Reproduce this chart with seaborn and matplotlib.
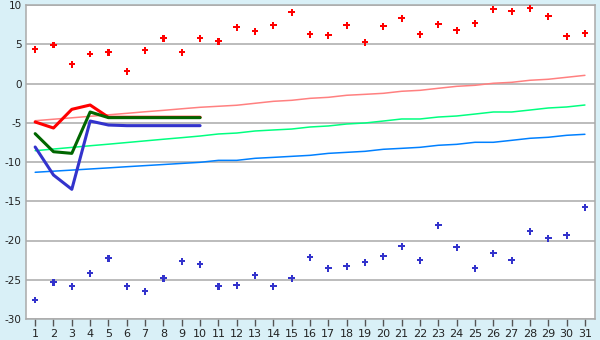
import matplotlib
matplotlib.use("Agg")
import matplotlib.pyplot as plt
import seaborn as sns
import pandas as pd

days = list(range(1, 32))

max_pts = [4.35, 4.9, 2.44, 3.76, 3.97, 1.55, 4.23, 5.76, 3.97, 5.76,
           5.37, 7.16, 6.65, 7.41, 9.07, 6.26, 6.14, 7.41, 5.24, 7.29,
           8.3, 6.26, 7.54, 6.77, 7.67, 9.45, 9.2, 9.58, 8.56, 6.0, 6.39]
min_pts = [-27.6, -25.33, -25.84, -24.18, -22.27, -25.84, -26.47, -24.82, -22.65, -23.03,
           -25.84, -25.71, -24.43, -25.84, -24.82, -22.14, -23.54, -23.29, -22.78, -22.01,
           -20.74, -22.52, -18.06, -20.87, -23.54, -21.63, -22.52, -18.83, -19.72, -19.34, -15.77]

norm_max = [-4.74, -4.55, -4.37, -4.18, -3.99, -3.8, -3.6, -3.42, -3.22, -3.03,
            -2.9, -2.77, -2.52, -2.27, -2.14, -1.89, -1.76, -1.5, -1.38, -1.25,
            -0.99, -0.87, -0.61, -0.36, -0.23, 0.03, 0.15, 0.41, 0.54, 0.79, 1.04]
norm_mean = [-8.56, -8.35, -8.14, -7.93, -7.73, -7.52, -7.31, -7.1, -6.9, -6.69,
             -6.43, -6.31, -6.05, -5.92, -5.8, -5.54, -5.41, -5.16, -5.03, -4.78,
             -4.52, -4.52, -4.27, -4.14, -3.89, -3.63, -3.63, -3.38, -3.12, -2.99, -2.74]
norm_min = [-11.31, -11.17, -11.03, -10.89, -10.75, -10.6, -10.46, -10.32, -10.18, -10.04,
            -9.79, -9.79, -9.53, -9.41, -9.28, -9.15, -8.9, -8.77, -8.64, -8.38,
            -8.26, -8.13, -7.87, -7.75, -7.49, -7.49, -7.24, -6.98, -6.85, -6.6, -6.47]

cur_days = list(range(1, 11))
cur_max = [-4.9, -5.67, -3.29, -2.74, -4.3, -4.3, -4.3, -4.3, -4.3, -4.3]
cur_mean = [-6.39, -8.69, -8.9, -3.63, -4.35, -4.35, -4.35, -4.35, -4.35, -4.35]
cur_min = [-8.09, -11.66, -13.48, -4.78, -5.29, -5.37, -5.37, -5.37, -5.37, -5.37]

y_ticks = [-30, -25, -20, -15, -10, -5, 0, 5, 10]
y_labels = ["-30", "-25", "-20", "-15", "-10", "-5", "0", "5", "10"]

sns.set_theme(style="white")
plt.rcParams['font.family'] = ['DejaVu Sans']
plt.rcParams['axes.unicode_minus'] = False

bg = "#d9f0f7"
fig = plt.figure(figsize=(6, 3.4), dpi=100, facecolor=bg)
ax = fig.add_axes([26/600, 1 - 319/340, (595-26)/600, (319-5)/340])
ax.set_facecolor("white")

df = pd.DataFrame({"day": days, "max": max_pts, "min": min_pts,
                   "nmax": norm_max, "nmean": norm_mean, "nmin": norm_min})
cur = pd.DataFrame({"day": cur_days, "max": cur_max, "mean": cur_mean, "min": cur_min})

for col, c in [("nmax", "#ff8080"), ("nmean", "#00ff80"), ("nmin", "#0080ff")]:
    sns.lineplot(data=df, x="day", y=col, color=c, linewidth=1.1, ax=ax)

for col, c in [("max", "#ff0000"), ("mean", "#006600"), ("min", "#3333cc")]:
    sns.lineplot(data=cur, x="day", y=col, color=c, linewidth=2.2, ax=ax)

sns.scatterplot(data=df, x="day", y="max", color="#ff0000", marker="P", s=22,
                edgecolor="none", ax=ax, zorder=5)
sns.scatterplot(data=df, x="day", y="min", color="#3333cc", marker="P", s=22,
                edgecolor="none", ax=ax, zorder=5)

ax.set_xlim(0.5, 31.55)
ax.set_ylim(-30, 10)
ax.set_xticks(days)
ax.set_xticklabels([str(d) for d in days])
ax.set_yticks(y_ticks)
ax.set_yticklabels(y_labels)
ax.yaxis.grid(True, color="#aaaaaa", linewidth=1.1)
ax.set_axisbelow(True)
ax.set_xlabel("")
ax.set_ylabel("")
for s in ax.spines.values():
    s.set_color("#aaaaaa")
    s.set_linewidth(1.1)
ax.tick_params(axis="x", bottom=True, length=5, width=1, color="#555555",
               labelsize=8, pad=2, labelcolor="#222222")
ax.tick_params(axis="y", left=False, length=0, labelsize=7.5, pad=3, labelcolor="#222222")

fig.savefig("out.png", dpi=100, facecolor=bg)
